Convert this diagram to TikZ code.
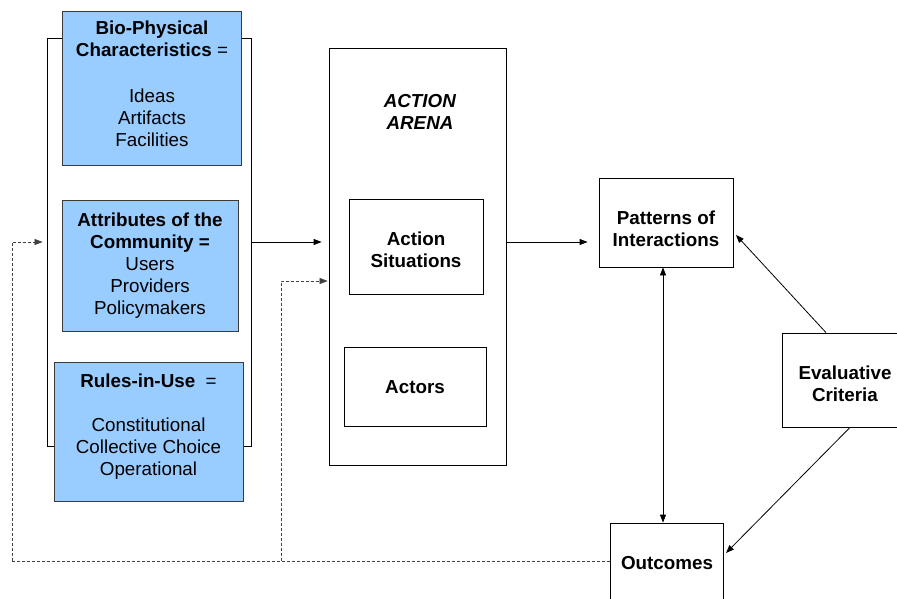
\documentclass[tikz,border=0pt]{standalone}
\usepackage{fontspec}
\setmainfont{Liberation Sans}
\usetikzlibrary{arrows.meta}
\definecolor{boxblue}{HTML}{99CCFF}
\definecolor{edgegray}{HTML}{3A3A3A}
\tikzset{
  plainbox/.style={draw=black, line width=0.8pt, fill=white, inner sep=0pt},
  bluebox/.style={draw=edgegray, line width=0.8pt, fill=boxblue, inner sep=0pt},
  txt/.style={align=center, inner sep=0pt},
  arr/.style={line width=0.8pt, -{Triangle[length=8pt,width=6pt]}},
  dblarr/.style={line width=0.8pt, {Triangle[length=8pt,width=6pt]}-{Triangle[length=8pt,width=6pt]}},
  dasharr/.style={line width=0.75pt, draw=black!75, dash pattern=on 3pt off 2pt, -{Triangle[length=8pt,width=6pt]}},
  dashline/.style={line width=0.75pt, draw=black!75, dash pattern=on 3pt off 2pt},
}
\begin{document}
\begin{tikzpicture}[x=1pt, y=-1pt, font=\fontsize{18.8}{22}\selectfont]
\useasboundingbox (0,0) rectangle (897,598);
\clip (0,0) rectangle (897,598);
\fill[white] (0,0) rectangle (897,598);

% left frame behind the blue boxes
\node[plainbox, minimum width=204pt, minimum height=408pt] (frame) at (149,242) {};

\node[bluebox, minimum width=179pt, minimum height=154pt] (bio) at (151.5,88) {};
\node[txt] (biotext) at (152,84)
  {\textbf{Bio-Physical}\\\textbf{Characteristics} =\\[24pt]Ideas\\Artifacts\\Facilities};
\node[bluebox, minimum width=176pt, minimum height=131pt] (comm) at (150,265.5) {};
\node[txt] (commtext) at (150,265.5)
  {\textbf{Attributes of the}\\\textbf{Community =}\\Users\\Providers\\Policymakers};
\node[bluebox, minimum width=189pt, minimum height=139pt] (rules) at (148.5,431.5) {};
\node[txt] (rulestext) at (148.5,427)
  {\textbf{Rules-in-Use}\ \ =\\[22pt]Constitutional\\Collective Choice\\Operational};

% action arena
\node[plainbox, minimum width=177pt, minimum height=417pt] (arena) at (417.5,256.5) {};
\node[txt] (arenalabel) at (420,111.5) {\textbf{\itshape ACTION}\\\textbf{\itshape ARENA}};
\node[plainbox, minimum width=134pt, minimum height=95pt] (sit) at (416,246.5) {};
\node[txt] (sittext) at (416,250) {\textbf{Action}\\\textbf{Situations}};
\node[plainbox, minimum width=142pt, minimum height=79pt] (actors) at (415,386.5) {};
\node[txt] (actorstext) at (415,387) {\textbf{Actors}};

% right side
\node[plainbox, minimum width=134pt, minimum height=89pt] (pat) at (666,222.5) {};
\node[txt] (pattext) at (666,229) {\textbf{Patterns of}\\\textbf{Interactions}};
\node[plainbox, minimum width=126pt, minimum height=94pt] (eval) at (845,380) {};
\node[txt] (evaltext) at (845,384) {\textbf{Evaluative}\\\textbf{Criteria}};
\node[plainbox, minimum width=113pt, minimum height=80pt] (out) at (666.5,563) {};
\node[txt] (outtext) at (667,563) {\textbf{Outcomes}};

% solid connectors
\draw[arr, shorten >=7pt] (frame.east) -- (frame.east -| arena.west);
\draw[arr, shorten >=11pt] (arena.east |- frame.east) -- (pat.west |- frame.east);
\coordinate (pb) at (663,0);
\draw[dblarr] (pat.south -| pb) -- (out.north -| pb);
\coordinate (evtop) at (826,0);
\coordinate (evbot) at (850,0);
\coordinate (patr) at (736,235);
\coordinate (outr) at (726,553);
\draw[arr] (eval.north -| evtop) -- (patr);
\draw[arr] (eval.south -| evbot) -- (outr);

% dashed feedback
\coordinate (dl) at (12,561);
\coordinate (dm) at (281,561);
\coordinate (dmt) at (281,281);
\draw[dashline] (out.west |- dl) -- (dl);
\draw[dasharr, shorten >=4pt] (dl) -- (dl |- frame.east) -- (frame.west);
\draw[dasharr, shorten >=1pt] (dm) -- (dmt) -- (dmt -| arena.west);
\end{tikzpicture}
\end{document}
